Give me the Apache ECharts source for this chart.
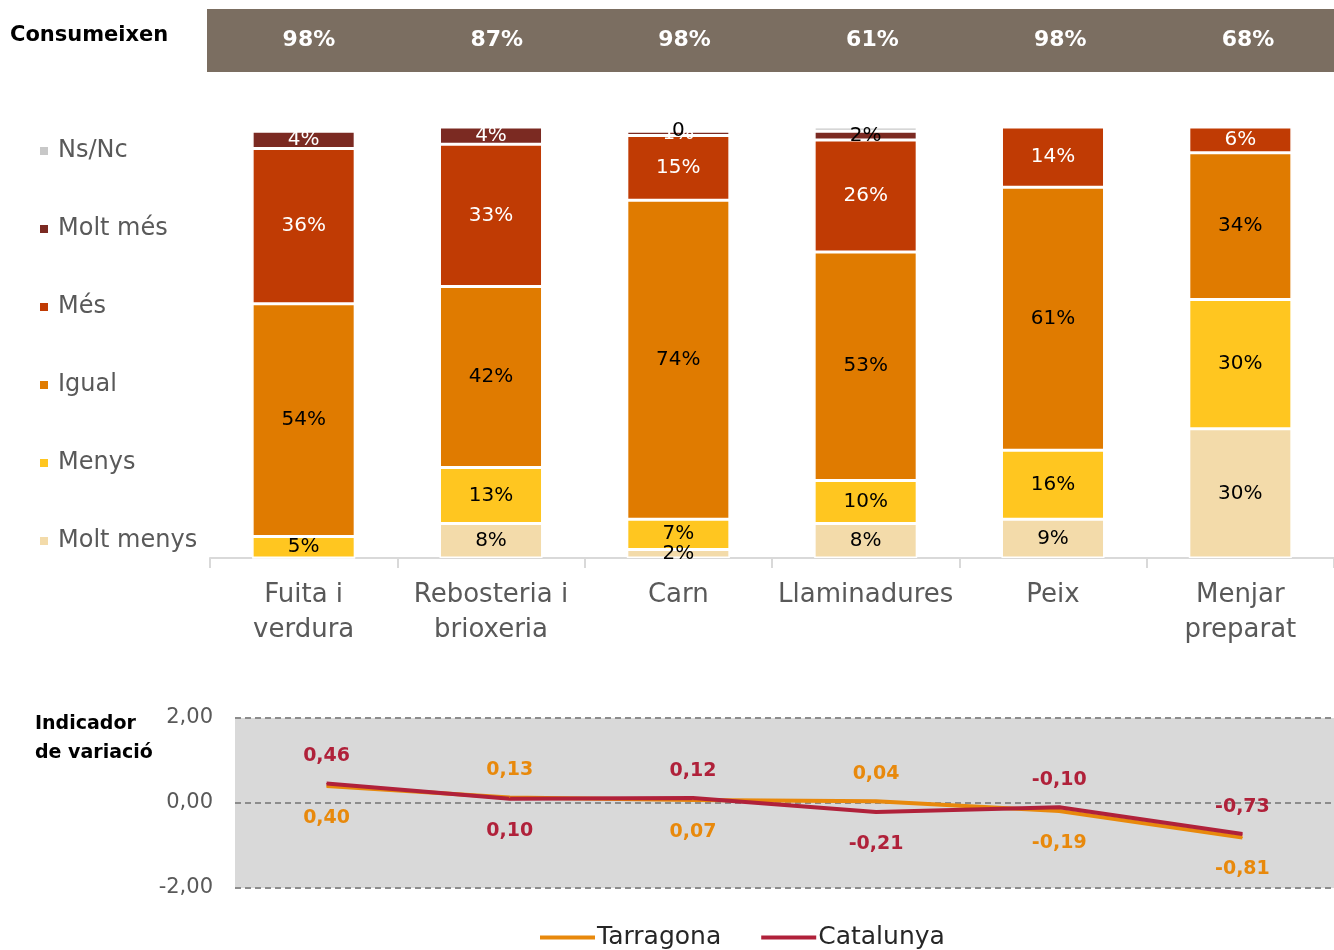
<!DOCTYPE html>
<html>
<head>
<meta charset="utf-8">
<script src="https://cdn.jsdelivr.net/npm/echarts@6/dist/echarts.min.js"></script>
<style>
  html, body { margin: 0; padding: 0; background: #fff; }
  #chart { width: 1334px; height: 950px; }
</style>
</head>
<body>
<div id="chart"></div>
<script>
// categories
const categories = ['Fuita i\nverdura', 'Rebosteria i\nbrioxeria', 'Carn', 'Llaminadures', 'Peix', 'Menjar\npreparat'];
const consumeixen = [98, 87, 98, 61, 98, 68];

// answers (%), bottom to top
const moltMenys = [0, 8, 2, 8, 9, 30];
const menys = [5, 13, 7, 10, 16, 30];
const igual = [54, 42, 74, 53, 61, 34];
const mes = [36, 33, 15, 26, 14, 6];
const moltMes = [4, 4, 1, 2, 0, 0];
const nsnc = [0, 0, 0, 1, 0, 0];

// indicador de variació
const tarragona = [0.40, 0.13, 0.07, 0.04, -0.19, -0.81];
const catalunya = [0.46, 0.10, 0.12, -0.21, -0.10, -0.73];
const yTicks = [-2, 0, 2];

const font = '"DejaVu Sans", sans-serif';
const fmt = v => v.toFixed(2).replace('.', ',');

function barSeries(name, data, color, labelColor) {
    return {
        name: name,
        type: 'bar',
        stack: 'total',
        xAxisIndex: 1,
        yAxisIndex: 1,
        barWidth: '55%',
        data: data,
        itemStyle: { color: color, borderColor: '#fff', borderWidth: 1.5 },
        label: {
            show: true,
            position: 'inside',
            color: labelColor,
            fontFamily: font,
            fontSize: 20,
            formatter: p => p.value == 0 ? '' : p.value + '%'
        }
    };
}

let mesTop = barSeries('Molt més', moltMes, '#7B2A22', '#fff');
// the Llaminadures label is drawn dark in the original
mesTop.data = moltMes.map((v, i) => i == 3 ? { value: v, label: { color: '#000' } } : v);

let ns = barSeries('Ns/Nc', nsnc, '#C8C8C8', '#000');
ns.label.show = false;
ns.data = nsnc.map((v, i) => i == 2 ? { value: v, label: { show: true, position: 'top', distance: -10, formatter: '0' } } : v);

const tarSide = ['bottom', 'top', 'bottom', 'top', 'bottom', 'bottom'];
const catSide = ['top', 'bottom', 'top', 'bottom', 'top', 'top'];

function lineSeries(name, data, color, sides) {
    return {
        name: name,
        type: 'line',
        xAxisIndex: 2,
        yAxisIndex: 2,
        showSymbol: true,
        symbol: 'circle',
        symbolSize: 1,
        lineStyle: { color: color, width: 4 },
        itemStyle: { color: color },
        data: data.map((v, i) => ({
            value: v,
            label: { position: sides[i], distance: sides[i] == 'top' ? 17 : 22 }
        })),
        label: {
            show: true,
            color: color,
            fontFamily: font,
            fontWeight: 'bold',
            fontSize: 19,
            formatter: p => fmt(p.value)
        }
    };
}

const chart = echarts.init(document.getElementById('chart'));
chart.setOption({
    animation: false,
    textStyle: { fontFamily: font },
    graphic: [
        { type: 'text', left: 10, top: 25, style: { text: 'Consumeixen', fontFamily: font, fontWeight: 'bold', fontSize: 21, fill: '#000' } },
        { type: 'text', left: 35, top: 710, style: { text: 'Indicador\nde variació', fontFamily: font, fontWeight: 'bold', fontSize: 19, lineHeight: 29, fill: '#000' } }
    ],
    legend: [{
        orient: 'vertical',
        left: 33,
        top: 134,
        itemWidth: 10,
        itemHeight: 10,
        itemGap: 54,
        icon: 'rect',
        data: ['Ns/Nc', 'Molt més', 'Més', 'Igual', 'Menys', 'Molt menys'],
        textStyle: { fontFamily: font, fontSize: 24, color: '#595959', padding: [0, 0, 0, 4] }
    }, {
        left: 535,
        top: 920,
        itemWidth: 55,
        itemHeight: 4,
        itemGap: 40,
        icon: 'rect',
        data: ['Tarragona', 'Catalunya'],
        textStyle: { fontFamily: font, fontSize: 25, color: '#262626', padding: [0, 0, 0, -3] }
    }],
    grid: [
        { left: 207, right: 0, top: 9, height: 63, show: true, backgroundColor: '#7B6E61', borderWidth: 0 },
        { left: 210, right: 0, top: 127, height: 431 },
        { left: 235, right: 0, top: 718, height: 170, show: true, backgroundColor: '#D9D9D9', borderWidth: 0 }
    ],
    xAxis: [
        { gridIndex: 0, type: 'category', data: categories, show: false },
        {
            gridIndex: 1,
            type: 'category',
            data: categories,
            axisLine: { lineStyle: { color: '#D9D9D9', width: 2 } },
            axisTick: { show: true, interval: 0, length: 10, lineStyle: { color: '#D9D9D9', width: 2 } },
            axisLabel: { interval: 0, color: '#595959', fontFamily: font, fontSize: 26, lineHeight: 35, margin: 20 }
        },
        { gridIndex: 2, type: 'category', data: categories, show: false }
    ],
    yAxis: [
        { gridIndex: 0, type: 'value', min: 0, max: 1, show: false },
        { gridIndex: 1, type: 'value', min: 0, max: 100, show: false },
        {
            gridIndex: 2,
            type: 'value',
            min: yTicks[0],
            max: yTicks[yTicks.length - 1],
            interval: 2,
            axisLine: { show: false },
            axisTick: { show: false },
            axisLabel: { color: '#595959', fontFamily: font, fontSize: 21, margin: 22, formatter: v => fmt(v) },
            splitLine: { lineStyle: { color: '#8C8C8C', type: [6, 4], width: 2 } }
        }
    ],
    series: [
        {
            type: 'bar',
            xAxisIndex: 0,
            yAxisIndex: 0,
            barWidth: '100%',
            silent: true,
            data: consumeixen.map(() => 1),
            itemStyle: { color: 'rgba(0,0,0,0)' },
            label: {
                show: true,
                position: 'inside',
                offset: [8, 0],
                color: '#fff',
                fontFamily: font,
                fontWeight: 'bold',
                fontSize: 22,
                formatter: p => consumeixen[p.dataIndex] + '%'
            }
        },
        barSeries('Molt menys', moltMenys, '#F3DBAA', '#000'),
        barSeries('Menys', menys, '#FFC620', '#000'),
        barSeries('Igual', igual, '#E07B00', '#000'),
        barSeries('Més', mes, '#C03B04', '#fff'),
        mesTop,
        ns,
        lineSeries('Tarragona', tarragona, '#E8890C', tarSide),
        lineSeries('Catalunya', catalunya, '#B0213A', catSide)
    ]
});
</script>
</body>
</html>
